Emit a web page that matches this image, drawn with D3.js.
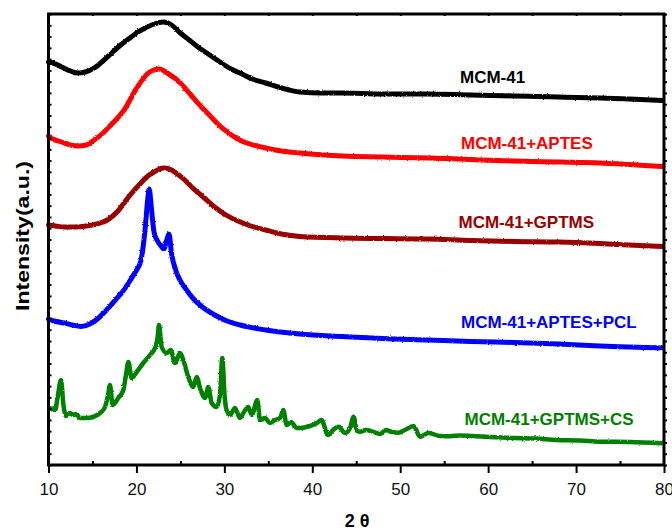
<!DOCTYPE html>
<html>
<head>
<meta charset="utf-8">
<script src="https://cdn.jsdelivr.net/npm/d3@7"></script>
<style>
  body { margin: 0; background: #fff; }
  svg { display: block; }
  text { font-family: "Liberation Sans", Arial, sans-serif; }
</style>
</head>
<body>
<div id="chart"></div>
<script>
// XRD patterns, [2theta, intensity (a.u.)], curves already offset as in the figure
var mcm41 = [
  [10.0,403],[10.5,402],[11.5,398],[12.5,394],[13.3,392],[14.2,393],[15.2,397],[16.2,404],
  [17.2,412],[18.2,420],[19.1,426],[20.0,432],[21.0,437],[22.0,441],[23.1,443],[24.0,440],
  [25.0,432],[26.0,425],[27.0,418],[28.0,412],[29.0,406],[30.0,400],[31.0,395],[32.0,391],
  [33.2,386],[34.7,382],[36.5,377],[38.6,373],[41.0,372],[43.5,372],[48.0,371],[53.2,371],
  [58.0,370],[63.0,369],[68.0,368],[72.7,367],[76.0,366],[79.8,364.5]
];
var mcm41Aptes = [
  [10.0,329],[10.5,326],[11.5,323],[12.5,320],[13.3,319],[14.3,320],[15.2,325],[16.2,332],
  [17.2,341],[18.6,355],[20.1,378],[21.5,393],[22.6,396],[23.5,392],[25.0,382],[26.2,370],
  [27.4,358],[28.5,348],[29.5,339],[30.5,332],[31.5,326],[32.9,321],[34.7,317],[36.5,314],
  [38.6,312],[43.5,309],[48.0,308],[53.2,307],[58.0,305.5],[63.0,304],[68.0,303],[72.7,302],
  [76.0,300.5],[79.8,298.5]
];
var mcm41Gptms = [
  [10.0,240],[10.8,239],[11.8,238],[13.0,238],[14.3,239],[15.5,241],[16.7,245],[17.9,254],
  [19.1,268],[20.5,282],[21.3,289],[22.0,293],[23.1,297],[24.0,295],[24.5,292],[25.5,285],
  [26.4,277],[27.6,268],[28.9,258],[30.0,251],[31.3,245],[33.0,239],[34.7,235],[36.5,231],
  [38.6,228.5],[43.5,227],[48.0,226.5],[53.2,226],[58.0,224.5],[63.0,223.5],[68.0,223],
  [72.7,221.5],[76.0,220],[79.8,218.5]
];
var mcm41AptesPcl = [
  [10.0,146],[10.6,144],[11.8,142],[12.7,140],[13.7,138.5],[14.7,141],[15.7,147],[16.6,155],
  [17.6,165],[18.4,173],[19.1,182],[19.8,192],[20.5,204],[21.0,237],[21.3,267],[21.45,276],
  [21.7,257],[22.0,233],[22.4,224],[22.8,219],[23.1,216],[23.45,225],[23.7,231],[24.0,211],
  [24.5,194],[25.0,184],[25.7,175],[26.4,167],[27.5,158],[28.9,150],[30.3,144],[31.8,140],
  [34.7,135],[38.6,131],[43.5,128.5],[48.0,126.5],[53.2,125],[58.0,123.5],[63.0,122.5],
  [68.0,121],[72.7,119],[76.0,118],[79.8,117]
];
var mcm41GptmsCs = [
  [10.17,57],[10.74,55],[11.08,70],[11.42,85],[11.7,60],[11.99,49],[12.45,52],[12.82,50],
  [13.13,51],[13.58,47],[14.34,47],[15.06,48],[15.86,52],[16.43,58],[16.77,70],[16.99,80],
  [17.3,60],[17.94,67],[18.51,75],[18.81,90],[19.08,103],[19.46,87],[20.03,93],[20.78,102],
  [21.54,110],[22.11,117],[22.4,127],[22.57,140],[22.87,118],[23.44,112],[23.9,115],[24.39,102],
  [24.96,112],[25.33,105],[25.9,88],[26.47,78],[26.85,88],[27.23,77],[27.8,67],[28.17,78],
  [28.56,62],[29.13,58],[29.5,70],[29.77,107],[30.02,70],[30.19,57],[30.64,50],[31.21,57],
  [31.78,47],[32.23,53],[32.72,58],[33.11,50],[33.75,65],[34.05,45],[34.62,47],[35.19,42],
  [35.76,45],[36.33,47],[36.7,55],[37.09,40],[37.58,43],[38.23,37],[38.6,37],[39.74,39],
  [40.54,42],[41.04,45],[41.79,30],[42.36,35],[42.99,38.3],[43.72,32],[44.29,37],[44.7,48.3],
  [45.08,34],[45.43,33.3],[46.11,35],[46.91,33.3],[47.7,31],[48.35,35],[49.07,33],[49.82,32.3],
  [50.54,35],[51.52,39],[52.25,28.3],[53.23,32],[54.52,29],[55.66,28.8],[56.8,29.5],[58.09,29],
  [60.21,28],[62.94,27],[65.33,26.5],[67.83,25],[70.45,24.5],[72.72,23.3],[76.13,23],[79.77,21.7]
];

var seriesNames = ["MCM-41", "MCM-41+APTES", "MCM-41+GPTMS", "MCM-41+APTES+PCL", "MCM-41+GPTMS+CS"];
var seriesColors = ["#000000", "#ff0000", "#990000", "#0000ff", "#008000"];
var xMajorTicks = [10, 20, 30, 40, 50, 60, 70, 80];
var xMinorTicks = [15, 25, 35, 45, 55, 65, 75];

var allSeries = [mcm41, mcm41Aptes, mcm41Gptms, mcm41AptesPcl, mcm41GptmsCs];

var W = 672, H = 532;
var margin = {top: 14, right: 8, bottom: 67, left: 48.5};
var w = W - margin.left - margin.right,
    h = H - margin.top - margin.bottom;

var svg = d3.select("#chart").append("svg")
  .attr("width", W)
  .attr("height", H);

// rough edge so the traces look like measured data
var filt = svg.append("defs").append("filter")
  .attr("id", "rough")
  .attr("x", "-5%").attr("y", "-10%")
  .attr("width", "110%").attr("height", "120%");
filt.append("feTurbulence")
  .attr("type", "fractalNoise")
  .attr("baseFrequency", 0.8)
  .attr("numOctaves", 1)
  .attr("seed", 4)
  .attr("result", "noise");
filt.append("feDisplacementMap")
  .attr("in", "SourceGraphic")
  .attr("in2", "noise")
  .attr("scale", 2.5)
  .attr("xChannelSelector", "R")
  .attr("yChannelSelector", "G");

var g = svg.append("g")
  .attr("transform", "translate(" + margin.left + "," + margin.top + ")");

var x = d3.scaleLinear().domain([10, 80]).range([0, w]);
var y = d3.scaleLinear().domain([0, 451]).range([h, 0]);

var line = d3.line()
  .x(function(d){ return x(d[0]); })
  .y(function(d){ return y(d[1]); })
  .curve(d3.curveMonotoneX);

g.selectAll(".xrd")
  .data(allSeries)
  .enter()
  .append("path")
  .attr("class", "xrd")
  .attr("d", line)
  .attr("fill", "none")
  .attr("stroke", function(d, i){ return seriesColors[i]; })
  .attr("stroke-width", function(d, i){ return i == 4 ? 4.5 : 5; })
  .attr("stroke-linejoin", "round")
  .attr("stroke-linecap", "round")
  .attr("filter", "url(#rough)");

// labels for each curve
var labelPos = [[460, 83], [461, 149], [458.5, 227.5], [461, 328], [464.5, 425]];
svg.selectAll(".lbl")
  .data(seriesNames)
  .enter()
  .append("text")
  .attr("class", "lbl")
  .attr("x", function(d, i){ return labelPos[i][0]; })
  .attr("y", function(d, i){ return labelPos[i][1]; })
  .attr("font-size", "17px")
  .attr("font-weight", "bold")
  .attr("fill", function(d, i){ return seriesColors[i]; })
  .text(function(d){ return d; });

// axes
var yTicks = d3.range(41).map(function(k){ return k * 451 / 40; });

var xAxis = g.append("g")
  .attr("transform", "translate(0," + h + ")")
  .call(d3.axisBottom(x).tickValues(xMajorTicks).tickSize(8).tickPadding(10).tickFormat(d3.format("d")));
var xMinor = g.append("g")
  .attr("transform", "translate(0," + h + ")")
  .call(d3.axisBottom(x).tickValues(xMinorTicks).tickSize(-4).tickFormat(""));
var xTop = g.append("g")
  .call(d3.axisTop(x).tickValues(xMajorTicks.concat(xMinorTicks)).tickSize(-2).tickFormat(""));
var yLeft = g.append("g")
  .call(d3.axisLeft(y).tickValues(yTicks).tickSize(-3).tickFormat(""));
var yRight = g.append("g")
  .attr("transform", "translate(" + w + ",0)")
  .call(d3.axisRight(y).tickValues(yTicks).tickSize(3).tickFormat(""));

g.selectAll(".domain").remove();
g.selectAll(".tick line").attr("stroke", "#000").attr("stroke-width", 2);
xAxis.selectAll("text")
  .attr("font-size", "17px")
  .attr("font-family", "Liberation Sans, Arial, sans-serif")
  .attr("fill", "#111");

g.append("rect")
  .attr("width", w)
  .attr("height", h)
  .attr("fill", "none")
  .attr("stroke", "#000")
  .attr("stroke-width", 3);

svg.append("text")
  .attr("x", 357)
  .attr("y", 527)
  .attr("text-anchor", "middle")
  .attr("font-size", "18px")
  .attr("font-weight", "bold")
  .text("2 θ");

svg.append("text")
  .attr("transform", "rotate(-90)")
  .attr("x", -236)
  .attr("y", 29)
  .attr("text-anchor", "middle")
  .attr("font-size", "19px")
  .attr("font-weight", "bold")
  .attr("textLength", 150)
  .attr("lengthAdjust", "spacingAndGlyphs")
  .text("Intensity(a.u.)");
</script>
</body>
</html>
